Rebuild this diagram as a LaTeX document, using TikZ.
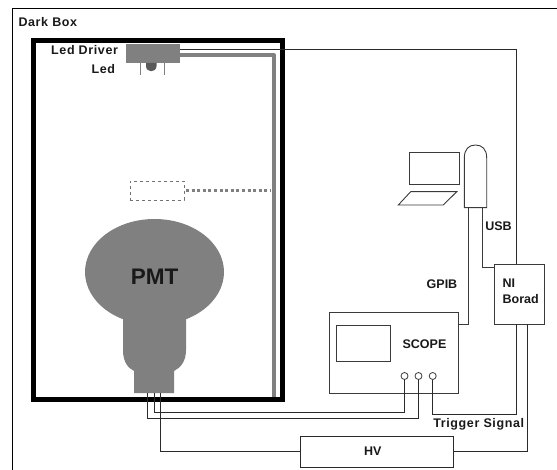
\documentclass[tikz,border=0pt]{standalone}
\usepackage{fontspec}
\setmainfont{Liberation Sans}
\newfontfamily\spaced[LetterSpace=5]{Liberation Sans}
\definecolor{pmtgrey}{HTML}{808080}
\definecolor{wire}{HTML}{2A2A2A}
\definecolor{boxline}{HTML}{3A3A3A}
\tikzset{
  every node/.style={inner sep=0pt,outer sep=0pt},
  lbl/.style={font=\fontsize{12.5}{14}\selectfont\bfseries,text=black!90},
  slbl/.style={font=\fontsize{12.5}{14}\selectfont\spaced\bfseries,text=black!90},
  wirebox/.style={draw=boxline,line width=0.9pt,fill=white},
  wireline/.style={draw=wire,line width=0.9pt},
  port/.style={circle,draw=boxline,line width=0.8pt,fill=white,minimum size=7pt},
  thinline/.style={draw=boxline,line width=0.9pt},
  greyline/.style={draw=pmtgrey,line width=4pt},
}
\begin{document}
\begin{tikzpicture}[x=1pt,y=-1pt]
\useasboundingbox (0,0) rectangle (557,470);
\fill[white] (0,0) rectangle (557,470);
% Dark box outline
\coordinate (frameTR) at (557,8.5);
\coordinate (frameTL) at (12.5,8.5);
\coordinate (frameBL) at (12.5,470);
\draw[black,line width=1pt] (frameTR) -- (frameTL) -- (frameBL);
\node[slbl,anchor=west] (darkbox) at (18.5,22.5) {Dark Box};
% inner thick box
\node[draw=black,line width=5pt,minimum width=248.5pt,minimum height=358pt] (inner) at (157.75,220) {};
% PMT
\fill[pmtgrey] (154.5,272) ellipse [x radius=69.5,y radius=53];
\fill[pmtgrey] (123,300) -- (186,300) -- (186,350)
  .. controls (186,362) and (180,368) .. (174,371) -- (174,393) -- (134,393) -- (134,371)
  .. controls (128,368) and (123,362) .. (123,350) -- cycle;
\node[font=\fontsize{22.5}{24}\selectfont\bfseries,text=black!90] (pmt) at (154.5,276.5) {PMT};
% LED driver and LED
\node[fill=pmtgrey,minimum width=54pt,minimum height=19pt] (driver) at (153,53.5) {};
\fill[black!65] (146,63) -- (156.5,63) -- (156.5,66) .. controls (156.5,73) and (146,73) .. (146,66) -- cycle;
\coordinate (ledA) at (140.5,63);
\coordinate (ledB) at (140.5,75);
\coordinate (ledC) at (164,63);
\coordinate (ledD) at (164,75);
\draw[pmtgrey,line width=0.8pt] (ledA) -- (ledB) (ledC) -- (ledD);
\node[lbl,anchor=east] (leddriver) at (118,50) {\spaced Led Driver};
\node[lbl,anchor=east] (led) at (115,69.5) {\spaced Led};
% grey fibre
\coordinate (fibreA) at (180,55.3);
\coordinate (fibreB) at (274,396.5);
\draw[greyline,line join=round] (fibreA) -| (fibreB);
% dashed filter
\node[draw=black!55,dashed,line width=0.7pt,minimum width=54pt,minimum height=19pt] (filter) at (157,190.5) {};
\coordinate (filterEnd) at (271,190.5);
\draw[pmtgrey,line width=2.6pt,dash pattern=on 3pt off 2.6pt] (filter.east) ++(2,0) -- (filterEnd);
% scope
\node[wirebox,minimum width=129.3pt,minimum height=80.7pt] (scope) at (393.65,352.65) {};
\node[wirebox,minimum width=53.6pt,minimum height=36.3pt] (screen) at (363.5,343.15) {};
\node[lbl] (scopetxt) at (424.5,344) {SCOPE};
\node[port] (p1) at (404.5,376) {};
\node[port] (p2) at (418.5,376) {};
\node[port] (p3) at (432.7,376) {};
% HV
\node[draw=wire,line width=0.9pt,fill=white,minimum width=152.6pt,minimum height=31pt] (hv) at (377,451.8) {};
\node[lbl] (hvtxt) at (372.7,451) {HV};
% NI board
\node[wirebox,minimum width=50pt,minimum height=60pt] (ni) at (519.3,294) {};
\node[lbl,anchor=west] (nitxt) at (502.7,283.7) {NI};
\node[lbl,anchor=west] (boradtxt) at (502.7,299.3) {Borad};
% laptop
\node[wirebox,minimum width=50.3pt,minimum height=32.4pt] (laptop) at (434.15,168.5) {};
\coordinate (kbA) at (410.7,191.7);
\coordinate (kbB) at (456.7,191.7);
\coordinate (kbC) at (443.3,205);
\coordinate (kbD) at (398.3,205);
\draw[thinline,fill=white] (kbA) -- (kbB) -- (kbC) -- (kbD) -- cycle;
% interface device
\coordinate (devBL) at (464.3,207.7);
\coordinate (devBR) at (486.7,207.7);
\coordinate (devTR) at (486.7,158);
\coordinate (devTL) at (464.3,158);
\draw[thinline,fill=white] (devBL) -- (devBR) -- (devTR)
  .. controls (486.7,149) and (482,145) .. (475.5,145)
  .. controls (469,145) and (464.3,149) .. (devTL) -- cycle;
% connectors
\coordinate (drvOut) at (180,49.7);
\coordinate (niTop) at (516.5,264);
\draw[wireline] (drvOut) -| (niTop);
\coordinate (gpibA) at (458.3,324);
\coordinate (gpibB) at (468.3,207.7);
\draw[thinline] (gpibA) -| (gpibB);
\coordinate (usbA) at (482.3,207.7);
\coordinate (usbB) at (494.3,267.7);
\draw[thinline] (usbA) |- (usbB);
\node[lbl,anchor=west] (usbtxt) at (485.3,225.7) {USB};
\node[lbl,anchor=west] (gpibtxt) at (426.7,283.7) {GPIB};
\coordinate (pinA) at (154.3,393);
\coordinate (pinB) at (147.7,393);
\coordinate (pinC) at (160.7,393);
\coordinate (w1) at (154.3,412);
\coordinate (w2) at (147.7,418.3);
\draw[wireline] (pinA) -- (w1) -| (p1.south);
\draw[wireline] (pinB) -- (w2) -| (p2.south);
\draw[wireline] (pinC) |- (hv.west);
\coordinate (w3) at (516.3,414.3);
\draw[wireline] (p3.south) |- (w3) -- (ni.south -| w3);
\coordinate (w4) at (527.3,451);
\draw[wireline] (hv.east |- w4) -- (w4) -- (ni.south -| w4);
\node[slbl,anchor=west] (trig) at (433.3,424.5) {Trigger Signal};
\end{tikzpicture}
\end{document}
